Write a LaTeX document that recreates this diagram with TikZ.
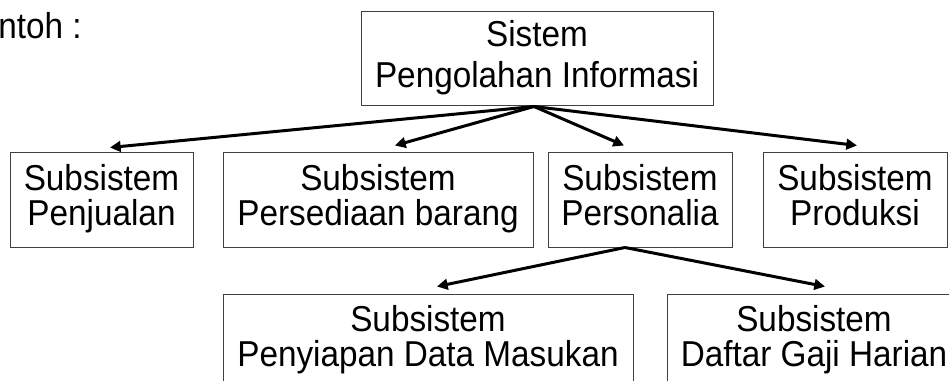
\documentclass[tikz,border=0pt]{standalone}
\usepackage{fontspec}
\setmainfont{Liberation Sans}[FakeStretch=0.925]
\usetikzlibrary{arrows.meta,calc}

\begin{document}
\begin{tikzpicture}[x=0.75pt,y=-0.75pt,
    kotak/.style={draw=black!75,line width=0.75pt,align=center,inner sep=0pt,
        minimum height=70.5pt,font=\fontsize{27}{26.25}\selectfont,
        execute at begin node={\rule{0pt}{22pt}},
        execute at end node={\rule[-7pt]{0pt}{7pt}}},
    panah/.style={line width=2.25pt,-{Triangle[length=8pt,width=8pt]}}]

\useasboundingbox (0,0) rectangle (949,381);
\clip (0,0) rectangle (949,381);

\node[anchor=base west,inner sep=0pt,font=\fontsize{27}{26.25}\selectfont] (judul) at (-2,39) {ntoh :};

% sistem induk
\node[kotak,minimum width=264pt,font=\fontsize{27}{30.75}\selectfont,
    execute at begin node={\rule{0pt}{25pt}},
    execute at end node={\rule[-6.25pt]{0pt}{6.25pt}}] (sistem) at (537,59) {Sistem\\Pengolahan Informasi};

% subsistem tingkat pertama
\node[kotak,minimum width=137.25pt] (jual) at (101.5,200) {Subsistem\\Penjualan};
\node[kotak,minimum width=232.5pt] (sedia) at (378,200) {Subsistem\\Persediaan barang};
\node[kotak,minimum width=138pt] (pers) at (640,200) {Subsistem\\Personalia};
\node[kotak,minimum width=138pt] (prod) at (855,200) {Subsistem\\Produksi};

% subsistem dari personalia
\node[kotak,minimum width=307.5pt] (data) at (428,341) {Subsistem\\Penyiapan Data Masukan};
\node[kotak,minimum width=220.5pt] (gaji) at (814,341) {Subsistem\\Daftar Gaji Harian};

\draw[panah] ($(sistem.south)+(-3,0)$) -- ($(jual.north)+(8.5,-5)$);
\draw[panah] ($(sistem.south)+(-3,0)$) -- ($(sedia.north)+(17,-7)$);
\draw[panah] ($(sistem.south)+(-3,0)$) -- ($(pers.north)+(-16,-7)$);
\draw[panah] ($(sistem.south)+(-3,0)$) -- ($(prod.north)+(2,-7)$);

\draw[panah] ($(pers.south)+(-15,0)$) -- ($(data.north)+(9,-7)$);
\draw[panah] ($(pers.south)+(-15,0)$) -- ($(gaji.north)+(11,-7)$);

\end{tikzpicture}
\end{document}
